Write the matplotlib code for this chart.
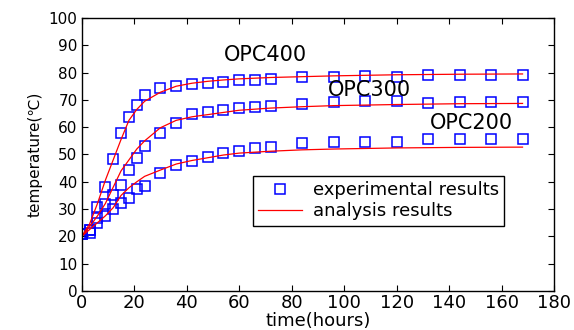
import matplotlib
matplotlib.use('Agg')
import matplotlib.pyplot as plt

plt.rcParams['font.family'] = ['DejaVu Sans']

# measured points (hours, temperature)
t_exp = [0, 3, 6, 9, 12, 15, 18, 21, 24, 30, 36, 42, 48, 54, 60, 66, 72,
         84, 96, 108, 120, 132, 144, 156, 168]
opc400_exp = [21, 22.5, 30.9, 38.2, 48.2, 57.8, 63.8, 68.2, 71.8, 74.5, 75.1,
              75.9, 76.3, 76.7, 77.2, 77.3, 77.8, 78.5, 78.4, 78.6, 78.4,
              79.2, 79.2, 79.2, 79.2]
opc300_exp = [21, 22.3, 26.6, 31.8, 35.2, 38.8, 44.3, 48.7, 53.2, 57.8, 61.4,
              64.8, 65.6, 66.3, 67.0, 67.3, 67.8, 68.5, 69.1, 69.5, 69.7,
              69.0, 69.3, 69.3, 69.3]
opc200_exp = [21, 21.4, 24.8, 27.6, 29.9, 32.1, 34.2, 37.2, 38.6, 43.3, 46.2,
              47.6, 49.2, 50.7, 51.3, 52.4, 52.9, 54.3, 54.7, 54.7, 54.7,
              55.7, 55.7, 55.7, 55.7]

# analysis curves
t_ana = [0, 3, 6, 9, 12, 15, 18, 21, 24, 30, 36, 42, 48, 54, 60, 72, 84, 96,
         120, 144, 168]
opc400_ana = [20, 24.5, 32, 40.5, 48, 55.5, 62.5, 66.5, 69.5, 72.8, 75.0,
              76.1, 76.8, 77.3, 77.7, 78.2, 78.5, 78.8, 79.2, 79.4, 79.5]
opc300_ana = [20, 23.5, 27.5, 32, 38, 44, 48, 52, 55, 59.8, 62.5, 63.8, 64.6,
              65.4, 66.2, 67.0, 67.5, 67.9, 68.3, 68.6, 68.7]
opc200_ana = [20, 22.5, 25, 27.5, 30.5, 35, 37.8, 40, 42, 44.3, 46.5, 47.8,
              48.8, 49.8, 50.5, 51.2, 51.7, 52.0, 52.4, 52.6, 52.7]

fig = plt.figure(figsize=(5.74, 3.30), dpi=100)
ax = fig.add_axes([0.1423, 0.1182, 0.8229, 0.8273])

mk = dict(marker='s', linestyle='none', markersize=6.5, markerfacecolor='none',
          markeredgecolor='#0000ff', markeredgewidth=1.1)
ax.plot(t_exp, opc400_exp, label='experimental results', **mk)
ax.plot(t_exp, opc300_exp, **mk)
ax.plot(t_exp, opc200_exp, **mk)
ax.plot(t_ana, opc400_ana, color='red', lw=0.9, label='analysis results')
ax.plot(t_ana, opc300_ana, color='red', lw=0.9)
ax.plot(t_ana, opc200_ana, color='red', lw=0.9)

ax.text(70.2, 86.4, 'OPC400', fontsize=15, ha='center', va='center')
ax.text(109.5, 73.8, 'OPC300', fontsize=15, ha='center', va='center')
ax.text(148.7, 61.4, 'OPC200', fontsize=15, ha='center', va='center')

ax.set_xlim(0, 180)
ax.set_ylim(0, 100)
ax.set_xticks(range(0, 181, 20))
ax.set_yticks(range(0, 101, 10))
ax.tick_params(direction='in', length=4, top=True, right=True, width=0.8)
ax.tick_params(axis='x', labelsize=13, pad=2)
ax.tick_params(axis='y', labelsize=11, pad=3)
for s in ax.spines.values():
    s.set_linewidth(1.0)

ax.set_xlabel('time(hours)', fontsize=13, labelpad=0)
ax.set_ylabel('temperature(℃)', fontsize=11, labelpad=4)

leg = ax.legend(loc='upper left', bbox_to_anchor=(0.3627, 0.421),
                borderaxespad=0, fontsize=13, handlelength=2.4,
                labelspacing=0.15, borderpad=0.3, handletextpad=0.6,
                fancybox=False, framealpha=1, edgecolor='black')
leg.get_frame().set_linewidth(1.0)

fig.savefig('out.png', dpi=100)
